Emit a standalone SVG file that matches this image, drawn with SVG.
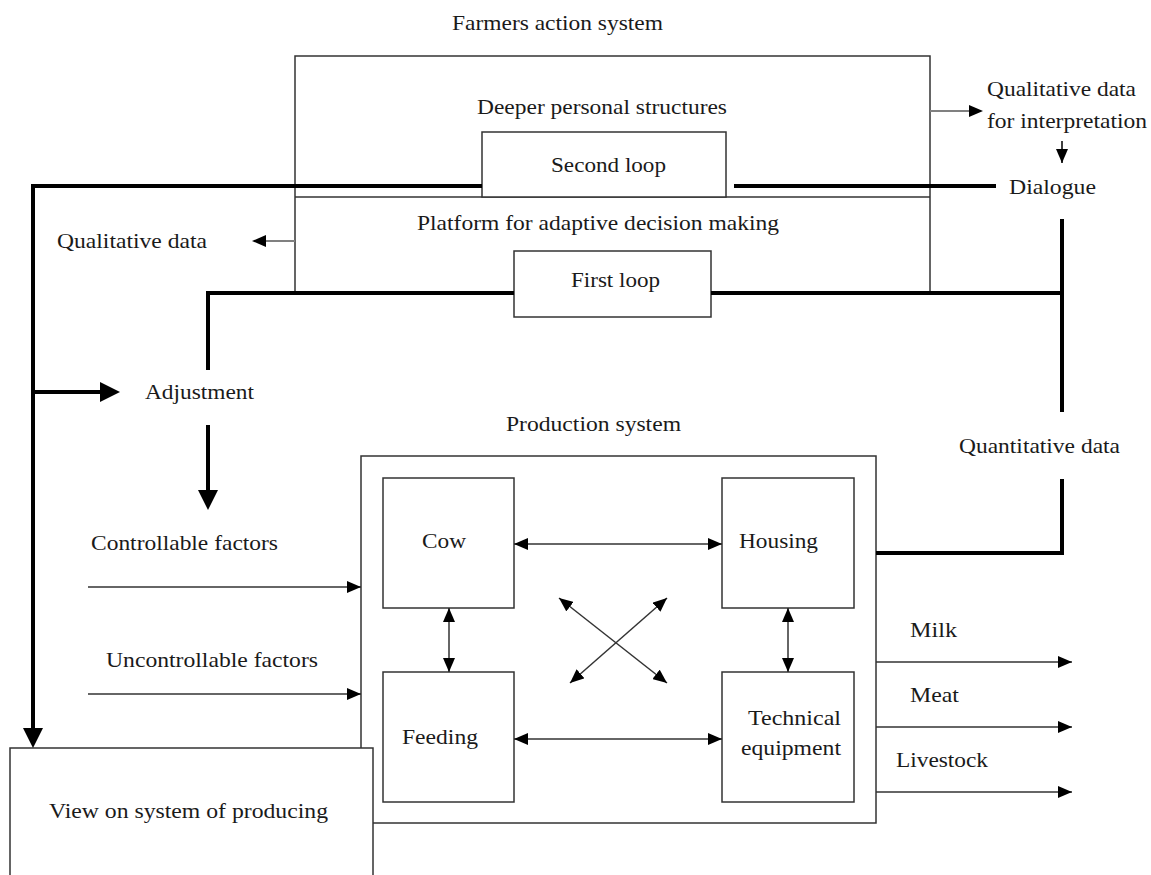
<svg xmlns="http://www.w3.org/2000/svg" width="1151" height="875" viewBox="0 0 1151 875">
<style>
text{font-family:"Liberation Serif","Times New Roman",serif;font-size:21px;fill:#1a1a1a}
.box{fill:#fff;stroke:#333;stroke-width:1.5}
.thick{stroke:#000;stroke-width:4;fill:none}
.thin{stroke:#333;stroke-width:1.5;fill:none}
.gray{stroke:#808080;stroke-width:2;fill:none}
</style>
<defs>
<marker id="ah" markerUnits="userSpaceOnUse" markerWidth="14" markerHeight="12" refX="14" refY="6" orient="auto-start-reverse"><path d="M0,0 L14,6 L0,12 Z" fill="#000"/></marker>
</defs>
<g id="farmers-action-system">
<rect class="box" x="295" y="56" width="635" height="237"/>
<line class="thin" x1="295" y1="197" x2="930" y2="197"/>
<text x="452" y="30" textLength="211" lengthAdjust="spacingAndGlyphs">Farmers action system</text>
<text x="477" y="114" textLength="250" lengthAdjust="spacingAndGlyphs">Deeper personal structures</text>
<text x="417" y="230" textLength="362" lengthAdjust="spacingAndGlyphs">Platform for adaptive decision making</text>
</g>
<g id="second-loop">
<rect class="box" x="482" y="132" width="244" height="65"/>
<text x="551" y="172" textLength="115" lengthAdjust="spacingAndGlyphs">Second loop</text>
</g>
<g id="first-loop">
<rect class="box" x="514" y="251" width="197" height="66"/>
<text x="571" y="287" textLength="89" lengthAdjust="spacingAndGlyphs">First loop</text>
</g>
<g id="qualitative-data-interpretation">
<text x="987" y="96" textLength="149" lengthAdjust="spacingAndGlyphs">Qualitative data</text>
<text x="987" y="128" textLength="160" lengthAdjust="spacingAndGlyphs">for interpretation</text>
</g>
<g id="dialogue"><text x="1009" y="194" textLength="87" lengthAdjust="spacingAndGlyphs">Dialogue</text></g>
<g id="qualitative-data"><text x="57" y="248" textLength="150" lengthAdjust="spacingAndGlyphs">Qualitative data</text></g>
<g id="adjustment"><text x="145" y="399" textLength="109" lengthAdjust="spacingAndGlyphs">Adjustment</text></g>
<g id="quantitative-data"><text x="959" y="453" textLength="161" lengthAdjust="spacingAndGlyphs">Quantitative data</text></g>
<g id="controllable"><text x="91" y="550" textLength="187" lengthAdjust="spacingAndGlyphs">Controllable factors</text></g>
<g id="uncontrollable"><text x="106" y="667" textLength="212" lengthAdjust="spacingAndGlyphs">Uncontrollable factors</text></g>
<g id="production-system">
<rect class="box" x="361" y="456" width="515" height="367"/>
<text x="506" y="431" textLength="175" lengthAdjust="spacingAndGlyphs">Production system</text>
</g>
<g id="cow"><rect class="box" x="383" y="478" width="131" height="130"/><text x="422" y="548" textLength="44" lengthAdjust="spacingAndGlyphs">Cow</text></g>
<g id="housing"><rect class="box" x="722" y="478" width="132" height="130"/><text x="739" y="548" textLength="79" lengthAdjust="spacingAndGlyphs">Housing</text></g>
<g id="feeding"><rect class="box" x="383" y="672" width="131" height="130"/><text x="402" y="744" textLength="76" lengthAdjust="spacingAndGlyphs">Feeding</text></g>
<g id="technical-equipment"><rect class="box" x="722" y="672" width="132" height="130"/><text x="748" y="725" textLength="93" lengthAdjust="spacingAndGlyphs">Technical</text><text x="741" y="755" textLength="100" lengthAdjust="spacingAndGlyphs">equipment</text></g>
<g id="outputs">
<text x="910" y="637" textLength="47" lengthAdjust="spacingAndGlyphs">Milk</text>
<text x="910" y="702" textLength="49" lengthAdjust="spacingAndGlyphs">Meat</text>
<text x="896" y="767" textLength="92" lengthAdjust="spacingAndGlyphs">Livestock</text>
</g>
<g id="view-on-system">
<rect class="box" x="10" y="748" width="363" height="140"/>
<text x="49" y="818" textLength="279" lengthAdjust="spacingAndGlyphs">View on system of producing</text>
</g>
<g id="connectors">
<polyline class="thick" points="482,186 33,186 33,728"/>
<path d="M23,728 L43,728 L33,748 Z" fill="#000"/>
<line class="thick" x1="734" y1="186" x2="996" y2="186"/>
<polyline class="thick" points="514,293 208,293 208,370"/>
<line class="thick" x1="711" y1="293" x2="1062" y2="293"/>
<line class="thick" x1="1062" y1="219" x2="1062" y2="412"/>
<polyline class="thick" points="1062,479 1062,553 876,553"/>
<line class="thick" x1="33" y1="392" x2="100" y2="392"/>
<path d="M100,382 L120,392 L100,402 Z" fill="#000"/>
<line class="thick" x1="208" y1="425" x2="208" y2="490"/>
<path d="M198,490 L218,490 L208,510 Z" fill="#000"/>
<line class="gray" x1="930" y1="111" x2="970" y2="111"/>
<path d="M969,105 L983,111 L969,117 Z" fill="#000"/>
<line class="gray" x1="295" y1="241" x2="266" y2="241"/>
<path d="M266,235 L252,241 L266,247 Z" fill="#000"/>
<line x1="1062" y1="141" x2="1062" y2="163" stroke="#000" stroke-width="1.5" marker-end="url(#ah)"/>
<line class="thin" x1="88" y1="587" x2="361" y2="587" marker-end="url(#ah)"/>
<line class="thin" x1="88" y1="694" x2="361" y2="694" marker-end="url(#ah)"/>
<line class="thin" x1="514" y1="544" x2="722" y2="544" marker-start="url(#ah)" marker-end="url(#ah)"/>
<line class="thin" x1="514" y1="739" x2="722" y2="739" marker-start="url(#ah)" marker-end="url(#ah)"/>
<line class="thin" x1="449" y1="608" x2="449" y2="672" marker-start="url(#ah)" marker-end="url(#ah)"/>
<line class="thin" x1="788" y1="608" x2="788" y2="672" marker-start="url(#ah)" marker-end="url(#ah)"/>
<line class="thin" x1="559" y1="598" x2="667" y2="683" marker-start="url(#ah)" marker-end="url(#ah)"/>
<line class="thin" x1="667" y1="598" x2="570" y2="683" marker-start="url(#ah)" marker-end="url(#ah)"/>
<line class="thin" x1="876" y1="662" x2="1072" y2="662" marker-end="url(#ah)"/>
<line class="thin" x1="876" y1="727" x2="1072" y2="727" marker-end="url(#ah)"/>
<line class="thin" x1="876" y1="792" x2="1072" y2="792" marker-end="url(#ah)"/>
</g>
</svg>
